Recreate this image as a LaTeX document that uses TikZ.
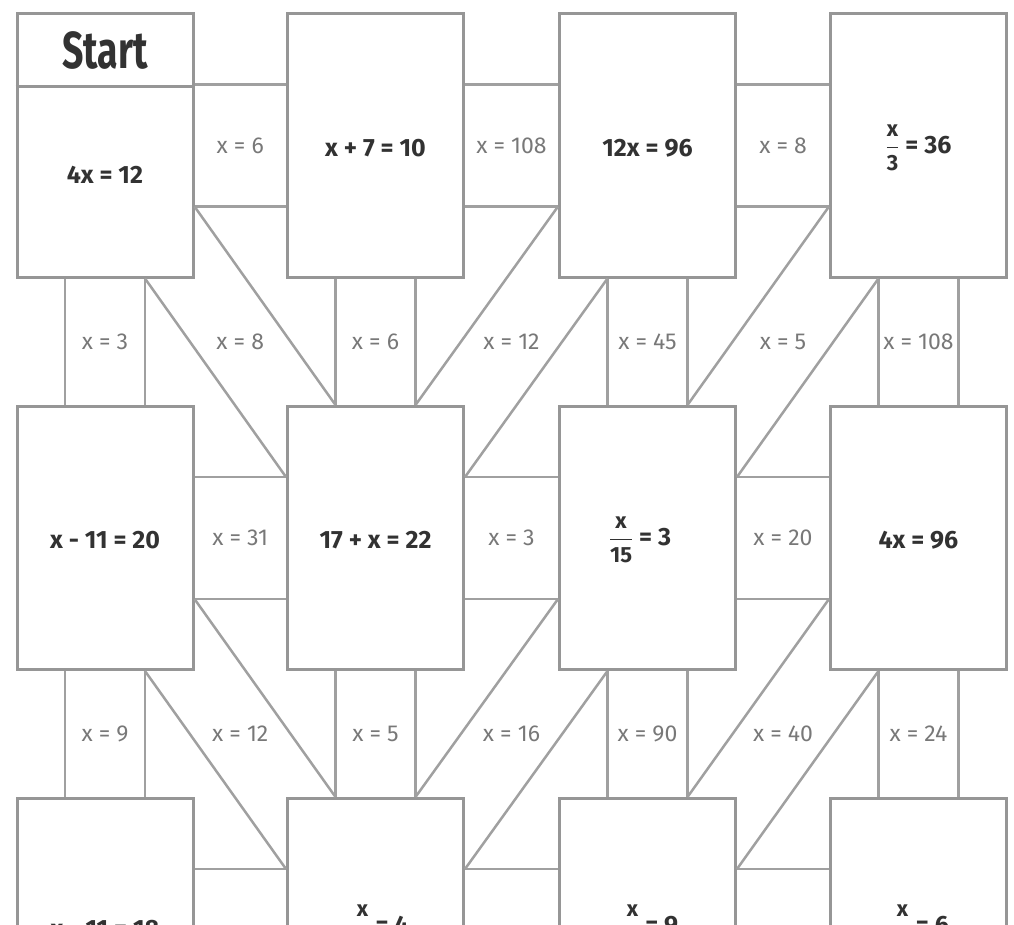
\documentclass[tikz,border=0pt]{standalone}
\usepackage{fontspec}
\usepackage{graphicx}
\setmainfont{Fira Sans}
\usetikzlibrary{calc}
\definecolor{boxc}{RGB}{150,150,150}
\definecolor{lanec}{RGB}{160,160,160}
\definecolor{eqc}{RGB}{50,50,50}
\definecolor{labc}{RGB}{120,120,120}
\newcommand\fr[2]{\ensuremath{\displaystyle\frac{\mbox{\fontsize{22}{22}\selectfont #1}}{\mbox{\fontsize{22}{22}\selectfont #2}}}}
\begin{document}
\begin{tikzpicture}[x=1pt,y=-1pt,
  box/.style={draw=boxc, line width=3pt, minimum width=176pt, minimum height=263pt, inner sep=0pt, fill=white},
  lane/.style={draw=lanec, line width=2.5pt},
  eq/.style={font=\fontsize{25}{30}\selectfont\bfseries, text=eqc, inner sep=0pt},
  lab/.style={font=\fontsize{23}{28}\selectfont, text=labc, inner sep=0pt}]
\useasboundingbox (0,0) rectangle (1014,925);
\clip (0,0) rectangle (1014,925);
% boxes
\node[box] (b11) at (105,145.5) {};
\node[box] (b12) at (375.5,145.5) {};
\node[box] (b13) at (647.5,145.5) {};
\node[box] (b14) at (918.5,145.5) {};
\node[box] (b21) at (105,538) {};
\node[box] (b22) at (375.5,538) {};
\node[box] (b23) at (647.5,538) {};
\node[box] (b24) at (918.5,538) {};
\node[box] (b31) at (105,930) {};
\node[box] (b32) at (375.5,930) {};
\node[box] (b33) at (647.5,930) {};
\node[box] (b34) at (918.5,930) {};
% start header
\draw[draw=boxc, line width=3pt] ($(b11.north west)+(0,74)$) -- ($(b11.north east)+(0,74)$);
\node[text=eqc, font=\fontsize{52}{60}\selectfont\bfseries, inner sep=0pt] (start) at (105,50) {\scalebox{0.72}[1]{Start}};
% box texts
\node[eq] (t11) at (105,175) {4x = 12};
\node[eq] (t12) at (375.5,148) {x + 7 = 10};
\node[eq] (t13) at (647.5,148) {12x = 96};
\node[eq] (t14) at (918.5,148) {\fr{x}{3} = 36};
\node[eq] (t21) at (105,540) {x - 11 = 20};
\node[eq] (t22) at (375.5,540) {17 + x = 22};
\node[eq] (t23) at (640,540) {\fr{x}{15} = 3};
\node[eq] (t24) at (918.5,540) {4x = 96};
\node[eq] (t31) at (105,929) {x - 11 = 18};
\node[eq] (t32) at (382,928) {\fr{x}{5} = 4};
\node[eq] (t33) at (652,928) {\fr{x}{7} = 9};
\node[eq] (t34) at (922,928) {\fr{x}{4} = 6};
% horizontal lanes
\foreach \r in {1,2}{
  \foreach \c/\d in {1/2,2/3,3/4}{
    \draw[lane] ($(b\r\c.east)+(0,-61)$) -- ($(b\r\d.west)+(0,-61)$);
    \draw[lane] ($(b\r\c.east)+(0,61)$) -- ($(b\r\d.west)+(0,61)$);
  }
}
\foreach \c/\d in {1/2,2/3,3/4}{
  \draw[lane] ($(b3\c.east)+(0,-61)$) -- ($(b3\d.west)+(0,-61)$);
}
% vertical and diagonal lanes
\foreach \r/\s in {1/2,2/3}{
  \foreach \c in {1,2,3,4}{
    \draw[lane] ($(b\r\c.south)+(-40,0)$) -- ($(b\s\c.north)+(-40,0)$);
    \draw[lane] ($(b\r\c.south)+(40,0)$) -- ($(b\s\c.north)+(40,0)$);
  }
  % gap 1: down-right
  \draw[lane] ($(b\r1.east)+(0,61)$) -- ($(b\s2.north)+(-40,0)$);
  \draw[lane] ($(b\r1.south)+(40,0)$) -- ($(b\s2.west)+(0,-61)$);
  % gaps 2 and 3: down-left
  \foreach \c/\d in {2/3,3/4}{
    \draw[lane] ($(b\r\d.west)+(0,61)$) -- ($(b\s\c.north)+(40,0)$);
    \draw[lane] ($(b\r\d.south)+(-40,0)$) -- ($(b\s\c.east)+(0,-61)$);
  }
}
% lane labels, row 1
\node[lab] (h11) at ($(b11.east)!0.5!(b12.west)$) {x = 6};
\node[lab] (h12) at ($(b12.east)!0.5!(b13.west)$) {x = 108};
\node[lab] (h13) at ($(b13.east)!0.5!(b14.west)$) {x = 8};
% row 1 -> 2
\node[lab] (v11) at ($(b11.south)!0.5!(b21.north)$) {x = 3};
\node[lab] (d11) at ($(b11.south east)!0.5!(b22.north west)$) {x = 8};
\node[lab] (v12) at ($(b12.south)!0.5!(b22.north)$) {x = 6};
\node[lab] (d12) at ($(b13.south west)!0.5!(b22.north east)$) {x = 12};
\node[lab] (v13) at ($(b13.south)!0.5!(b23.north)$) {x = 45};
\node[lab] (d13) at ($(b14.south west)!0.5!(b23.north east)$) {x = 5};
\node[lab] (v14) at ($(b14.south)!0.5!(b24.north)$) {x = 108};
% row 2
\node[lab] (h21) at ($(b21.east)!0.5!(b22.west)$) {x = 31};
\node[lab] (h22) at ($(b22.east)!0.5!(b23.west)$) {x = 3};
\node[lab] (h23) at ($(b23.east)!0.5!(b24.west)$) {x = 20};
% row 2 -> 3
\node[lab] (v21) at ($(b21.south)!0.5!(b31.north)$) {x = 9};
\node[lab] (d21) at ($(b21.south east)!0.5!(b32.north west)$) {x = 12};
\node[lab] (v22) at ($(b22.south)!0.5!(b32.north)$) {x = 5};
\node[lab] (d22) at ($(b23.south west)!0.5!(b32.north east)$) {x = 16};
\node[lab] (v23) at ($(b23.south)!0.5!(b33.north)$) {x = 90};
\node[lab] (d23) at ($(b24.south west)!0.5!(b33.north east)$) {x = 40};
\node[lab] (v24) at ($(b24.south)!0.5!(b34.north)$) {x = 24};
\end{tikzpicture}
\end{document}
